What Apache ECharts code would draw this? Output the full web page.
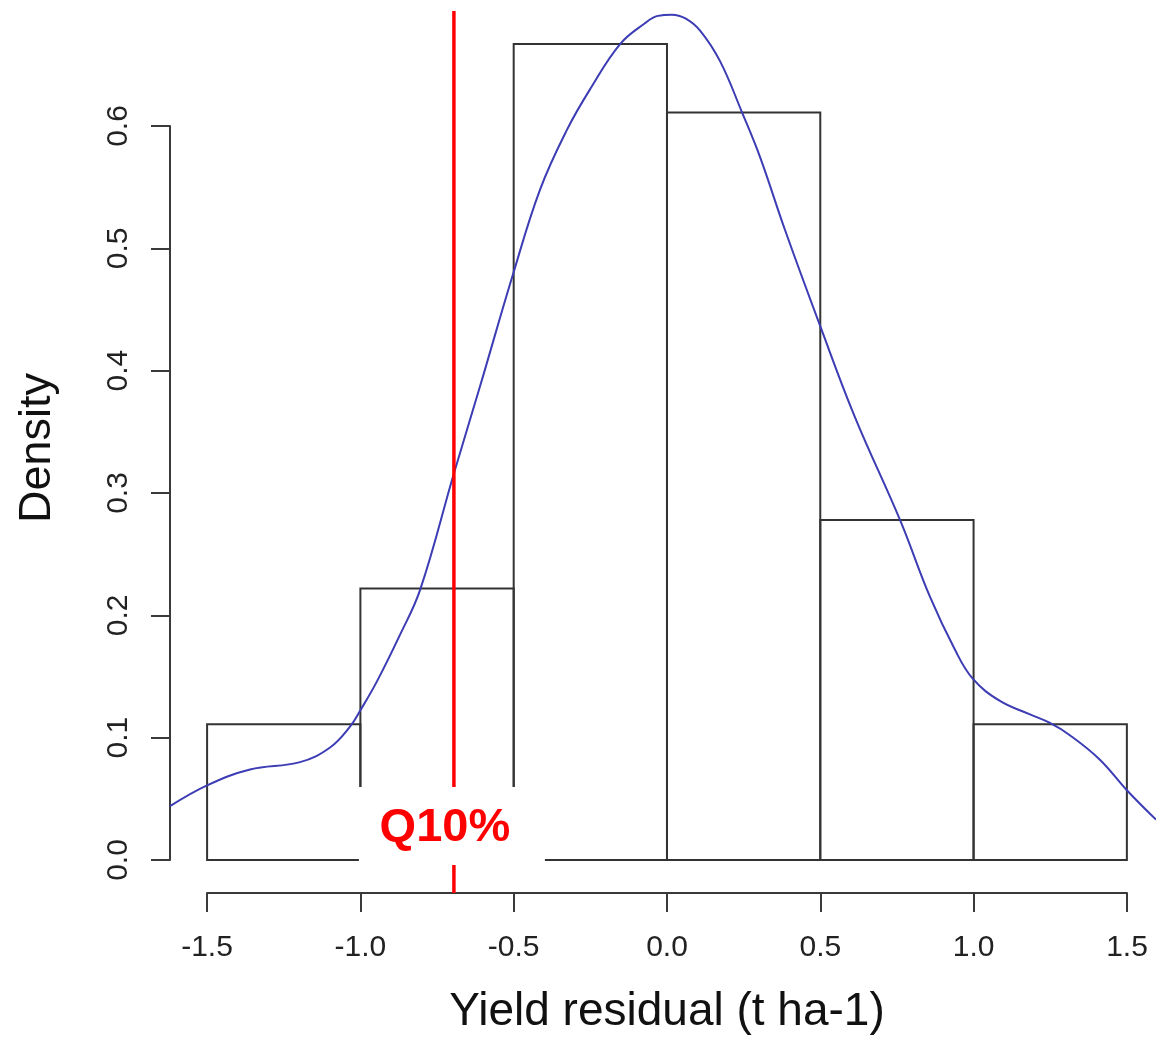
<!DOCTYPE html>
<html>
<head>
<meta charset="utf-8">
<title>Yield residual density</title>
<script src="https://cdn.jsdelivr.net/npm/echarts@6/dist/echarts.min.js"></script>
<style>
    html, body { margin: 0; padding: 0; background: #fff; }
    #main { width: 1156px; height: 1047px; }
</style>
</head>
<body>
<div id="main"></div>
<script>
// histogram breaks and bin densities
var breaks = [-1.5, -1.0, -0.5, 0.0, 0.5, 1.0, 1.5];
var densities = [0.111, 0.222, 0.667, 0.611, 0.278, 0.111];

// kernel density curve
var kdeX = [-1.621, -1.5, -1.36, -1.197, -1.099, -1.034, -1.001, -0.946, -0.871, -0.805,
    -0.695, -0.61, -0.502, -0.414, -0.326, -0.251, -0.153, -0.072, -0.03, 0.016,
    0.06, 0.108, 0.173, 0.245, 0.303, 0.385, 0.499, 0.613, 0.760, 0.858,
    0.939, 0.998, 1.086, 1.184, 1.249, 1.314, 1.412, 1.5, 1.595];
var kdeY = [0.044, 0.061, 0.074, 0.080, 0.092, 0.109, 0.122, 0.146, 0.184, 0.221,
    0.316, 0.387, 0.479, 0.548, 0.597, 0.630, 0.667, 0.684, 0.690, 0.691,
    0.688, 0.678, 0.653, 0.611, 0.575, 0.515, 0.437, 0.362, 0.278, 0.215,
    0.172, 0.148, 0.130, 0.119, 0.112, 0.102, 0.082, 0.057, 0.033];

// 10% quantile of the residuals
var q10 = -0.695;
var q10Label = 'Q10%';

var xName = 'Yield residual (t ha-1)';
var yName = 'Density';

var FONT = '"Liberation Sans", Arial, Helvetica, sans-serif';

var binData = [];
for (var i = 0; i < densities.length; i++) {
    binData.push([breaks[i], breaks[i + 1], densities[i]]);
}
var kdeData = [];
for (var j = 0; j < kdeX.length; j++) {
    kdeData.push([kdeX[j], kdeY[j]]);
}

var myChart = echarts.init(document.getElementById('main'));

var axisLineStyle = { color: '#3a3a3a', width: 2 };

function tickFmt(v) {
    return v.toFixed(1);
}

var option = {
    backgroundColor: '#fff',
    animation: false,
    // grid 0 = plot region (data), grid 1 = only carries the visible x axis
    grid: [
        { left: 170, width: 986, top: 126, height: 734 },
        { left: 207, width: 920, top: 126, height: 734 }
    ],
    graphic: [{
        type: 'text',
        x: 38,
        y: 448,
        rotation: Math.PI / 2,
        style: {
            text: yName,
            font: '45px ' + FONT,
            fill: '#111',
            align: 'center',
            verticalAlign: 'middle'
        }
    }],
    xAxis: [{
        gridIndex: 0,
        type: 'value',
        min: -1.621,
        max: 1.595,
        show: false
    }, {
        gridIndex: 1,
        type: 'value',
        min: -1.5,
        max: 1.5,
        interval: 0.5,
        offset: 33,
        name: xName,
        nameLocation: 'middle',
        nameGap: 96,
        nameTextStyle: { fontSize: 46, fontFamily: FONT, color: '#111' },
        splitLine: { show: false },
        axisLine: { show: true, onZero: false, lineStyle: axisLineStyle },
        axisTick: { show: true, length: 19, lineStyle: axisLineStyle },
        axisLabel: {
            fontSize: 30, fontFamily: FONT, color: '#222', margin: 40,
            showMinLabel: true, showMaxLabel: true,
            formatter: tickFmt
        }
    }],
    yAxis: [{
        gridIndex: 0,
        type: 'value',
        min: 0,
        max: 0.6,
        interval: 0.1,
        splitLine: { show: false },
        axisLine: { show: true, onZero: false, lineStyle: axisLineStyle },
        axisTick: { show: true, length: 19, lineStyle: axisLineStyle },
        axisLabel: {
            fontSize: 30, fontFamily: FONT, color: '#222', margin: 36, rotate: 90,
            showMinLabel: true, showMaxLabel: true,
            formatter: tickFmt
        }
    }, {
        gridIndex: 1,
        type: 'value',
        min: 0,
        max: 0.6,
        show: false
    }],
    series: [
        {
            // histogram bins
            type: 'custom',
            z: 2,
            clip: false,
            data: binData,
            encode: { x: [0, 1], y: 2 },
            renderItem: function (params, api) {
                var lt = api.coord([api.value(0), api.value(2)]);
                var rb = api.coord([api.value(1), 0]);
                return {
                    type: 'rect',
                    shape: { x: lt[0], y: lt[1], width: rb[0] - lt[0], height: rb[1] - lt[1] },
                    style: { fill: 'none', stroke: '#333', lineWidth: 2 }
                };
            }
        },
        {
            // density curve
            type: 'line',
            z: 3,
            clip: false,
            data: kdeData,
            smooth: 0.4,
            symbol: 'none',
            lineStyle: { color: '#3c3cb4', width: 2 }
        },
        {
            // Q10 vertical line
            type: 'custom',
            z: 4,
            clip: false,
            data: [[q10, 0]],
            encode: { x: 0, y: 1 },
            renderItem: function (params, api) {
                var p = api.coord([api.value(0), 0]);
                return {
                    type: 'line',
                    shape: { x1: p[0], y1: 11, x2: p[0], y2: p[1] + 33 },
                    style: { stroke: '#ff0000', lineWidth: 3.5 }
                };
            }
        },
        {
            // label box
            type: 'custom',
            z: 5,
            clip: false,
            data: [[q10, 0]],
            encode: { x: 0, y: 1 },
            renderItem: function (params, api) {
                var p = api.coord([api.value(0), 0]);
                return {
                    type: 'group',
                    children: [{
                        type: 'rect',
                        shape: { x: p[0] - 95, y: p[1] - 73, width: 186, height: 78 },
                        style: { fill: '#fff', stroke: null }
                    }, {
                        type: 'text',
                        x: p[0] - 9,
                        y: p[1] - 32,
                        style: {
                            text: q10Label,
                            font: 'bold 47px ' + FONT,
                            fill: '#ff0000',
                            align: 'center',
                            verticalAlign: 'middle'
                        }
                    }]
                };
            }
        }
    ]
};

myChart.setOption(option);
</script>
</body>
</html>
